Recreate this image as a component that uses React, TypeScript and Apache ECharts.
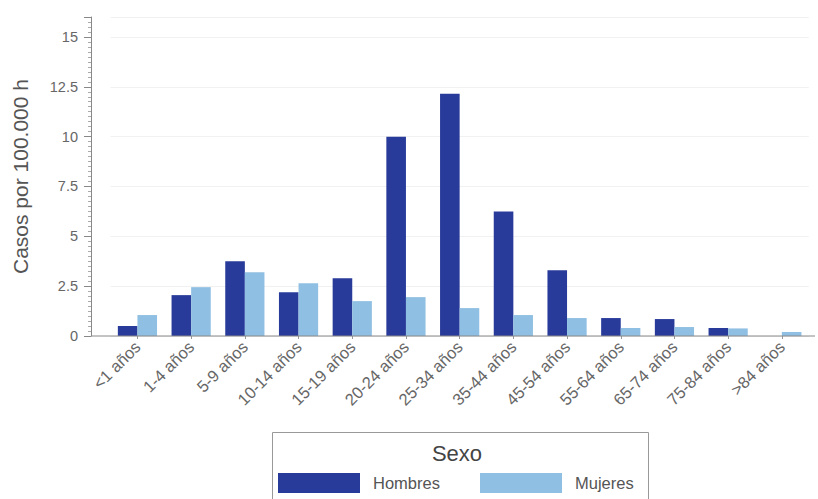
import React, { useEffect, useRef } from "react";
import * as echarts from "echarts";

const categories = [
  "<1 años", "1-4 años", "5-9 años", "10-14 años", "15-19 años", "20-24 años",
  "25-34 años", "35-44 años", "45-54 años", "55-64 años", "65-74 años", "75-84 años", ">84 años",
];
const hombres = [0.5, 2.05, 3.75, 2.2, 2.9, 10.0, 12.15, 6.25, 3.3, 0.9, 0.85, 0.4, 0];
const mujeres = [1.05, 2.45, 3.2, 2.65, 1.75, 1.95, 1.4, 1.05, 0.9, 0.4, 0.45, 0.38, 0.2];
const yTicks = [0, 2.5, 5, 7.5, 10, 12.5, 15];

const DARK = "#283b9a";
const LIGHT = "#8fbfe2";
const FONT = "Liberation Sans, Arial, sans-serif";

export default function App() {
  const ref = useRef<HTMLDivElement>(null);
  useEffect(() => {
    if (!ref.current) return;
    const chart = echarts.init(ref.current, null, { renderer: "svg" });
    chart.setOption({
      animation: false,
      backgroundColor: "#ffffff",
      textStyle: { fontFamily: FONT },
      grid: { left: 110.6, right: 9.3, top: 17, bottom: 163, containLabel: false },
      xAxis: {
        type: "category",
        data: categories,
        axisLine: { show: false },
        axisTick: { show: true, alignWithLabel: true, length: 3, lineStyle: { color: "#999" } },
        axisLabel: { rotate: 45, fontSize: 16.5, color: "#666", margin: 8, interval: 0, fontFamily: FONT },
        splitLine: { show: false },
      },
      yAxis: {
        type: "value",
        min: 0,
        max: 16,
        interval: 2.5,
        offset: 19.6,
        name: "Casos por 100.000 h",
        nameLocation: "middle",
        nameGap: 60,
        nameTextStyle: { fontSize: 21, color: "#555", fontFamily: FONT },
        axisLine: { show: true, lineStyle: { color: "#888", width: 1 } },
        axisTick: { show: true, length: 7, lineStyle: { color: "#888" } },
        minorTick: { show: true, splitNumber: 10, length: 3, lineStyle: { color: "#aaa" } },
        axisLabel: {
          fontSize: 14.5,
          color: "#666",
          margin: 13,
          fontFamily: FONT,
          formatter: (v: number) => (yTicks.includes(v) ? String(v) : ""),
        },
        splitLine: { show: true, lineStyle: { color: "#f1f1f1", width: 1 } },
      },
      legend: [
        {
          left: 278,
          top: 473,
          itemWidth: 82,
          itemHeight: 20,
          icon: "rect",
          data: ["Hombres"],
          textStyle: { fontSize: 16.5, color: "#555", padding: [0, 0, 0, 8], fontFamily: FONT },
          padding: 0,
        },
        {
          left: 480,
          top: 473,
          itemWidth: 82,
          itemHeight: 20,
          icon: "rect",
          data: ["Mujeres"],
          textStyle: { fontSize: 16.5, color: "#555", padding: [0, 0, 0, 8], fontFamily: FONT },
          padding: 0,
        },
      ],
      graphic: [
        {
          type: "line",
          shape: { x1: 91, y1: 336, x2: 815, y2: 336 },
          style: { stroke: "#888", lineWidth: 1 },
          z: 10,
        },
        {
          type: "rect",
          shape: { x: 272.5, y: 432.5, width: 376, height: 90 },
          style: { fill: "none", stroke: "#999", lineWidth: 1 },
        },
        {
          type: "text",
          x: 457,
          y: 453,
          style: { text: "Sexo", fontSize: 22, fill: "#444", align: "center", verticalAlign: "middle", fontFamily: FONT },
        },
      ],
      series: [
        {
          name: "Hombres",
          type: "bar",
          data: hombres,
          itemStyle: { color: DARK },
          barGap: "0%",
          barCategoryGap: "27%",
        },
        {
          name: "Mujeres",
          type: "bar",
          data: mujeres,
          itemStyle: { color: LIGHT },
          barGap: "0%",
          barCategoryGap: "27%",
        },
      ],
    });
    return () => chart.dispose();
  }, []);
  return (
    <div
      ref={ref}
      style={{ position: "fixed", left: 0, top: 0, width: 818, height: 499 }}
    />
  );
}
